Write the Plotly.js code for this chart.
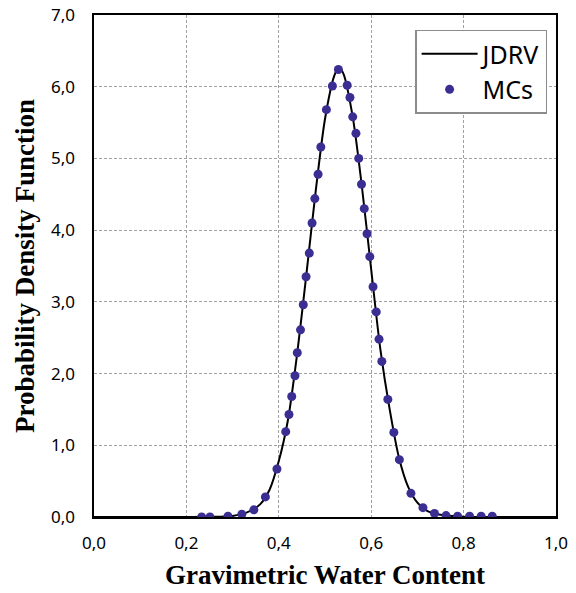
<!DOCTYPE html>
<html>
<head>
<meta charset="utf-8">
<script src="https://cdn.plot.ly/plotly-3.0.1.min.js"></script>
<style>html,body{margin:0;padding:0;background:#fff;}#chart{width:576px;height:593px;}</style>
</head>
<body>
<div id="chart"></div>
<script>
// JDRV curve
const jdrvX = [0.0, 0.20, 0.25, 0.30, 0.33, 0.36, 0.38, 0.40, 0.42, 0.44, 0.46, 0.48, 0.50, 0.52, 0.53, 0.54, 0.56, 0.58, 0.60, 0.62, 0.64, 0.66, 0.68, 0.70, 0.72, 0.75, 0.80, 0.90, 1.0];
const jdrvY = [0.0, 0.0, 0.002, 0.015, 0.06, 0.18, 0.38, 0.78, 1.36, 2.29, 3.40, 4.55, 5.55, 6.15, 6.27, 6.18, 5.58, 4.60, 3.45, 2.33, 1.50, 0.83, 0.42, 0.20, 0.09, 0.03, 0.005, 0.0, 0.0];
// Monte Carlo points
const mcX = [0.233, 0.251, 0.290, 0.320, 0.346, 0.371, 0.396, 0.415, 0.422, 0.428, 0.435, 0.440, 0.447, 0.453, 0.459, 0.466, 0.472, 0.478, 0.485, 0.491, 0.503, 0.516, 0.529, 0.548, 0.554, 0.560, 0.567, 0.573, 0.579, 0.585, 0.591, 0.597, 0.604, 0.611, 0.617, 0.623, 0.636, 0.649, 0.661, 0.686, 0.712, 0.737, 0.762, 0.787, 0.813, 0.838, 0.862];
const mcY = [0.00, 0.00, 0.01, 0.04, 0.10, 0.28, 0.67, 1.19, 1.43, 1.68, 1.97, 2.29, 2.61, 2.96, 3.35, 3.68, 4.10, 4.44, 4.78, 5.16, 5.68, 6.01, 6.24, 6.02, 5.85, 5.58, 5.35, 5.00, 4.64, 4.30, 3.95, 3.63, 3.21, 2.86, 2.48, 2.17, 1.64, 1.18, 0.80, 0.33, 0.13, 0.05, 0.02, 0.01, 0.01, 0.01, 0.01];

const traces = [
  {x: jdrvX, y: jdrvY, name: 'JDRV', type: 'scatter', mode: 'lines',
   line: {color: '#000000', width: 2, shape: 'spline', smoothing: 0.8}},
  {x: mcX, y: mcY, name: 'MCs', type: 'scatter', mode: 'markers',
   marker: {color: '#3B2E93', size: 9}}
];

const tickFont = {family: 'Noto Sans, Open Sans, sans-serif', size: 17, color: '#000'};
const titleFont = {family: 'Liberation Serif, Times New Roman, serif', size: 27, color: '#000', weight: 'bold'};

const layout = {
  width: 576, height: 593,
  margin: {l: 94, r: 20, t: 15, b: 76},
  paper_bgcolor: '#fff', plot_bgcolor: '#fff',
  separators: ',.',
  showlegend: true,
  xaxis: {
    range: [0, 1], dtick: 0.2, tick0: 0, tickformat: '.1f',
    showgrid: true, gridcolor: '#a0a0a0', griddash: '3px,2px', gridwidth: 1,
    zeroline: false, showline: true, linecolor: '#000', linewidth: 1.6, mirror: true,
    ticks: '', tickfont: tickFont, ticklabelstandoff: 10,
    automargin: false,
    title: {text: 'Gravimetric Water Content', font: titleFont, standoff: 12}
  },
  yaxis: {
    range: [0, 7], dtick: 1, tick0: 0, tickformat: '.1f',
    showgrid: true, gridcolor: '#a0a0a0', griddash: '3px,2px', gridwidth: 1,
    zeroline: false, showline: true, linecolor: '#000', linewidth: 1.6, mirror: true,
    ticks: '', tickfont: tickFont, ticklabelstandoff: 14,
    automargin: false,
    title: {text: 'Probability Density Function', font: titleFont, standoff: 8}
  },
  legend: {
    x: 0.695, y: 0.971, xanchor: 'left', yanchor: 'top',
    bgcolor: '#fff', bordercolor: '#8c8c8c', borderwidth: 1.5,
    font: {family: 'Noto Sans, Open Sans, sans-serif', size: 25, color: '#000'},
    itemwidth: 56
  }
};

Plotly.newPlot('chart', traces, layout, {displayModeBar: false, staticPlot: true});
</script>
</body>
</html>
